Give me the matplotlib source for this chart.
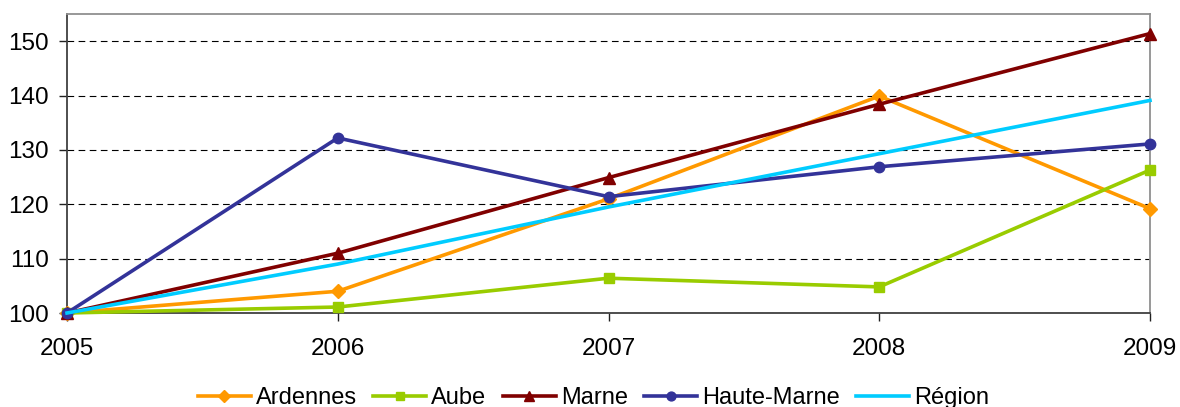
import matplotlib
matplotlib.use("Agg")
import matplotlib.pyplot as plt

years = [2005, 2006, 2007, 2008, 2009]
ardennes = [100, 104.0, 121.0, 139.9, 119.2]
aube = [100, 101.1, 106.4, 104.8, 126.3]
marne = [100, 111.0, 124.9, 138.4, 151.4]
haute_marne = [100, 132.2, 121.4, 126.9, 131.1]
region = [100, 109.0, 119.5, 129.3, 139.1]

series = [
    ("Ardennes", ardennes, "#FF9900", "D", 7),
    ("Aube", aube, "#99CC00", "s", 7),
    ("Marne", marne, "#800000", "^", 8),
    ("Haute-Marne", haute_marne, "#333399", "o", 7.5),
    ("Région", region, "#00CCFF", None, 0),
]

plt.rcParams['font.family'] = ['Liberation Sans', 'DejaVu Sans']
fig = plt.figure(figsize=(11.8, 4.07), dpi=100)
ax = fig.add_axes([67/1180, 1-313/407, (1150-67)/1180, (313-14)/407])

for name, vals, col, mk, ms in series:
    ax.plot(years, vals, color=col, lw=2.6, marker=mk, markersize=ms,
            label=name, clip_on=False, zorder=3)

ax.set_xlim(2005, 2009)
ax.set_ylim(100, 155)
ax.set_yticks([100, 110, 120, 130, 140, 150])
ax.set_xticks(years)
ax.yaxis.grid(True, linestyle=(0, (6, 4)), color='black', lw=0.8)
ax.set_axisbelow(True)
for s in ['left', 'bottom']:
    ax.spines[s].set_color('#404040')
    ax.spines[s].set_linewidth(1.3)
for s in ['top', 'right']:
    ax.spines[s].set_color('#909090')
    ax.spines[s].set_linewidth(1.3)
ax.tick_params(axis='both', labelsize=17.5, length=6, color='#202020', width=1)
ax.tick_params(axis='x', pad=12)
ax.tick_params(axis='y', pad=7)

leg = fig.legend(loc='center', bbox_to_anchor=(0.503, 1-398/407), ncol=5,
                 frameon=False, fontsize=17, handlelength=2.25, columnspacing=0.7,
                 handletextpad=0.2, borderpad=0, borderaxespad=0, markerscale=0.85)
fig.savefig("out.png", dpi=100)
